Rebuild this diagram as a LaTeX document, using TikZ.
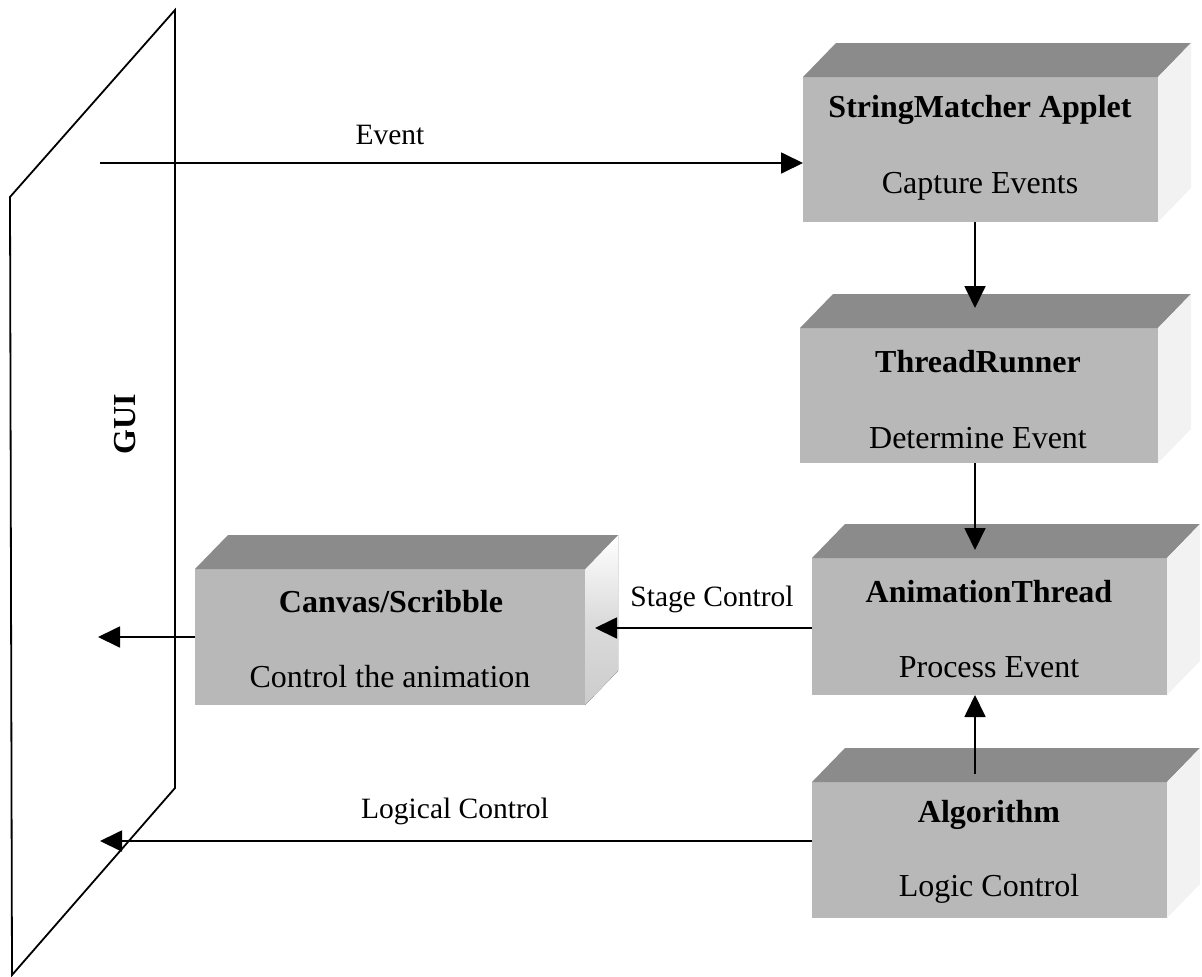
\documentclass[tikz,border=0pt]{standalone}
\usepackage{fontspec}
\setmainfont{Liberation Serif}
\usetikzlibrary{arrows.meta,calc}

\definecolor{facefront}{HTML}{B8B8B8}
\definecolor{facetop}{HTML}{8B8B8B}
\definecolor{faceside}{HTML}{F2F2F2}

\tikzset{
  front/.style={draw=none, fill=facefront, inner sep=0pt, outer sep=0pt},
  boxtitle/.style={font=\fontsize{32}{38}\selectfont\bfseries, inner sep=0pt},
  boxsub/.style={font=\fontsize{32}{38}\selectfont, inner sep=0pt},
  lbl/.style={font=\fontsize{29.5}{35}\selectfont, inner sep=0pt},
  arr/.style={line width=1.8pt, -{Triangle[length=22pt,width=21pt]}},
  plane/.style={line width=1.8pt, line join=miter},
}

% a box drawn as a front face with a top face and a side face
\newcommand{\solidbox}[2][faceside]{%
  \fill[facetop] (#2.north west) -- ++(33pt,34pt) -- ($(#2.north east)+(33pt,34pt)$) -- (#2.north east) -- cycle;
  \fill[#1] (#2.north east) -- ++(33pt,34pt) -- ($(#2.south east)+(33pt,34pt)$) -- (#2.south east) -- cycle;
}

\begin{document}
\begin{tikzpicture}[x=1pt,y=-1pt]
\useasboundingbox (0,0) rectangle (1202,977);

% GUI plane
\coordinate (p1) at (175,10);
\coordinate (p2) at (175,788);
\coordinate (p3) at (12,975);
\coordinate (p4) at (10,197);
\draw[plane] (p1) -- (p2) -- (p3) -- (p4) -- cycle;
\node[font=\fontsize{32}{38}\selectfont\bfseries, rotate=90, inner sep=0pt] (gui) at (125,424) {GUI};

% front faces
\node[front, minimum width=355pt, minimum height=145pt] (sm) at (980.5,149.5) {};
\node[front, minimum width=358pt, minimum height=135pt] (tr) at (979,395.5) {};
\node[front, minimum width=355pt, minimum height=137pt] (at) at (989.5,626.5) {};
\node[front, minimum width=355pt, minimum height=136pt] (al) at (989.5,850) {};
\node[front, minimum width=390pt, minimum height=136pt] (cv) at (390,637) {};

% top and side faces
\solidbox{sm}
\solidbox{tr}
\solidbox{at}
\solidbox{al}
\fill[top color=white, bottom color=black!20, middle color=black!14]
  (cv.north east) -- ++(33pt,34pt) -- ($(cv.south east)+(33pt,34pt)$) -- (cv.south east) -- cycle;
\fill[facetop] (cv.north west) -- ++(33pt,34pt) -- ($(cv.north east)+(33pt,34pt)$) -- (cv.north east) -- cycle;

% box texts
\node[boxtitle] (smT) at (980,110) {StringMatcher Applet};
\node[boxsub]   (smS) at (980,186) {Capture Events};
\node[boxtitle] (trT) at (978,362) {ThreadRunner};
\node[boxsub]   (trS) at (978,438) {Determine Event};
\node[boxtitle] (atT) at (989,592) {AnimationThread};
\node[boxsub]   (atS) at (989,667) {Process Event};
\node[boxtitle] (alT) at (989,815) {Algorithm};
\node[boxsub]   (alS) at (989,889) {Logic Control};
\node[boxtitle] (cvT) at (391,602) {Canvas/Scribble};
\node[boxsub]   (cvS) at (390,677) {Control the animation};

% connector end points
\coordinate (evS)   at (100,163);
\coordinate (trtop) at (975,308);
\coordinate (attop) at (975,550);
\coordinate (alTop) at (975,774);
\coordinate (cvtip) at (595,628);
\coordinate (guiA)  at (98,637);
\coordinate (guiB)  at (100,841);

% connectors
\draw[arr] (evS) -- (evS -| sm.west);
\draw[arr] (sm.south -| trtop) -- (trtop);
\draw[arr] (tr.south -| attop) -- (attop);
\draw[arr] (alTop) -- (alTop |- at.south);
\draw[arr] (cvtip -| at.west) -- (cvtip);
\draw[arr] (cv.west) -- (guiA);
\draw[arr] (guiB -| al.west) -- (guiB);

% connector labels
\node[lbl] (evL) at (390,135) {Event};
\node[lbl] (stL) at (712,599) {Stage Control};
\node[lbl] (lgL) at (455,811) {Logical Control};
\end{tikzpicture}
\end{document}
